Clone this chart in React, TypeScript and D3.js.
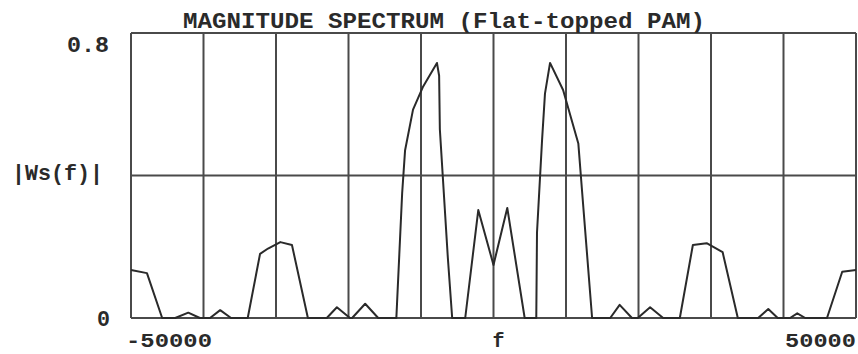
import { useEffect, useRef } from 'react';
import * as d3 from 'd3';

// spectrum, f in Hz
const freq = [
  -50000, -47800, -45700, -43900, -42100, -40500, -39100, -37700, -36200, -33900,
  -32200, -31100, -29400, -27800, -25600, -23000, -21600, -19800, -19500, -17700,
  -15900, -13400, -12600, -12200, -11100, -9700, -7800, -7500, -7400, -6300,
  -5700, -3900, -2100, 0, 1900, 4300, 5900, 6000, 6700, 7100,
  7800, 9600, 11700, 12200, 13600, 16100, 17400, 19100, 19900, 21600,
  23400, 25700, 27500, 29400, 31600, 33700, 36500, 37900, 39200, 40900,
  41900, 43000, 46000, 48100, 50000,
];
const mag = [
  0.135, 0.126, 0, 0, 0.015, 0, 0, 0.022, 0, 0,
  0.18, 0.195, 0.213, 0.205, 0, 0, 0.03, 0, 0, 0.04,
  0, 0, 0.35, 0.47, 0.585, 0.65, 0.716, 0.68, 0.53, 0.17,
  0, 0, 0.303, 0.149, 0.309, 0, 0, 0.24, 0.5, 0.63,
  0.716, 0.64, 0.49, 0.36, 0, 0, 0.037, 0, 0, 0.03,
  0, 0, 0.205, 0.21, 0.185, 0, 0, 0.025, 0, 0,
  0.013, 0, 0, 0.13, 0.135,
];

const xGrid = d3.range(-50000, 50001, 10000);
const yGrid = [0, 0.4, 0.8];
const title = 'MAGNITUDE SPECTRUM (Flat-topped PAM)';

export default function App() {
  const svgRef = useRef<SVGSVGElement>(null);

  useEffect(() => {
    if (!svgRef.current) return;
    const width = 858;
    const height = 354;
    const margin = { top: 33, right: 2, bottom: 36, left: 131 };

    d3.select(svgRef.current).selectAll('*').remove();
    const svg = d3.select(svgRef.current).attr('width', width).attr('height', height);

    const x = d3.scaleLinear().domain([-50000, 50000]).range([margin.left, width - margin.right]);
    const y = d3.scaleLinear().domain([0, 0.8]).range([height - margin.bottom, margin.top]);

    const font = "'Liberation Mono', 'DejaVu Sans Mono', monospace";
    const ink = '#2a2a2a';

    const grid = svg.append('g').attr('stroke', '#4a4a4a').attr('stroke-width', 2);
    xGrid.forEach((f) => {
      grid.append('line').attr('x1', x(f)).attr('x2', x(f)).attr('y1', y(0)).attr('y2', y(0.8));
    });
    yGrid.forEach((v) => {
      grid.append('line').attr('x1', x(-50000)).attr('x2', x(50000)).attr('y1', y(v)).attr('y2', y(v));
    });

    const pts = freq.map((f, i) => [f, mag[i]] as [number, number]);
    const line = d3
      .line<[number, number]>()
      .x((d) => x(d[0]))
      .y((d) => y(d[1]));
    svg
      .append('path')
      .datum(pts)
      .attr('fill', 'none')
      .attr('stroke', ink)
      .attr('stroke-width', 2)
      .attr('stroke-linejoin', 'round')
      .attr('d', line);

    const txt = (s: string, tx: number, ty: number, anchor: string, size: number, len?: number) => {
      const t = svg
        .append('text')
        .attr('x', tx)
        .attr('y', ty)
        .attr('text-anchor', anchor)
        .attr('fill', ink)
        .style('font-family', font)
        .style('font-weight', 'bold')
        .style('font-size', `${size}px`)
        .text(s);
      if (len) t.attr('textLength', len).attr('lengthAdjust', 'spacingAndGlyphs');
      return t;
    };

    txt(title, 444, 28, 'middle', 22, 522);
    txt('0.8', 109, 52, 'end', 22, 42);
    txt('0', 110, 326, 'end', 22, 13);
    txt('|Ws(f)|', 103, 180, 'end', 22, 91);
    // bottom row sits close to the page edge, keep it a bit smaller
    txt('-50000', 126, 347, 'start', 20, 86);
    txt('f', x(0) + 5, 347, 'middle', 20);
    txt('50000', 856, 347, 'end', 20, 71);
  }, []);

  return (
    <svg
      ref={svgRef}
      style={{ position: 'absolute', left: 0, top: 0, background: '#fff' }}
    ></svg>
  );
}
